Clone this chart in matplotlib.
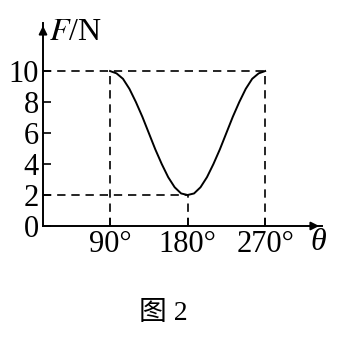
import numpy as np
import matplotlib
matplotlib.use("Agg")
from matplotlib import pyplot as plt

# F(θ), every 7.5°
theta = [90, 97.5, 105, 112.5, 120, 127.5, 135, 142.5, 150, 157.5, 165, 172.5, 180,
         187.5, 195, 202.5, 210, 217.5, 225, 232.5, 240, 247.5, 255, 262.5, 270]
force = [10, 9.85, 9.5, 8.85, 8, 7.05, 6, 4.95, 4, 3.15, 2.5, 2.1, 2,
         2.1, 2.5, 3.15, 4, 4.95, 6, 7.05, 8, 8.85, 9.5, 9.85, 10]

xticks = [90, 180, 270]
xlabels = ["90°", "180°", "270°"]
yticks = [0, 2, 4, 6, 8, 10]

serif = ["Liberation Serif", "DejaVu Serif"]
plt.rcParams["font.family"] = serif

fig = plt.figure(figsize=(3.39, 3.39), dpi=100)
W = 339.0
ax = fig.add_axes([43 / W, 1 - 226 / W, (322 - 43) / W, (226 - 23) / W])
ax.set_xlim(12.2, 336)
ax.set_ylim(0, 13.1)

ax.plot(theta, force, color="black", lw=1.4)

dash = dict(color="black", lw=1.2, linestyle=(0, (5, 3.5)))
ax.plot([12.2, 270], [10, 10], **dash)
ax.plot([12.2, 180], [2, 2], **dash)
ax.plot([90, 90], [0, 10], **dash)
ax.plot([270, 270], [0, 10], **dash)
ax.plot([180, 180], [0, 2], **dash)

for s in ["top", "right"]:
    ax.spines[s].set_visible(False)
for s in ["left", "bottom"]:
    ax.spines[s].set_linewidth(1.4)

ax.set_xticks(xticks)
ax.set_xticklabels(xlabels)
ax.set_yticks(yticks)
ax.tick_params(direction="in", length=6, width=1.2, labelsize=22, pad=3)
ax.tick_params(axis="y", pad=3)

# arrow heads
ax.annotate("", xy=(1.0, 0), xytext=(0.96, 0), xycoords="axes fraction",
            arrowprops=dict(arrowstyle="-|>", color="black", lw=1.4, mutation_scale=12))
ax.annotate("", xy=(0, 1.0), xytext=(0, 0.96), xycoords="axes fraction",
            arrowprops=dict(arrowstyle="-|>", color="black", lw=1.4, mutation_scale=12))

fig.text(49 / W, 1 - 33 / W, "$\\mathit{F}$/N", fontsize=23, va="center", ha="left",
         math_fontfamily="stix")
fig.text(318 / W, 1 - 243 / W, "θ", fontsize=23, style="italic", va="center", ha="center")
fig.text(163 / W, 1 - 313 / W, "图 2", fontsize=20, va="center", ha="center",
         family=["Liberation Serif", "Noto Sans CJK SC"])

fig.savefig("out.png", dpi=100)
